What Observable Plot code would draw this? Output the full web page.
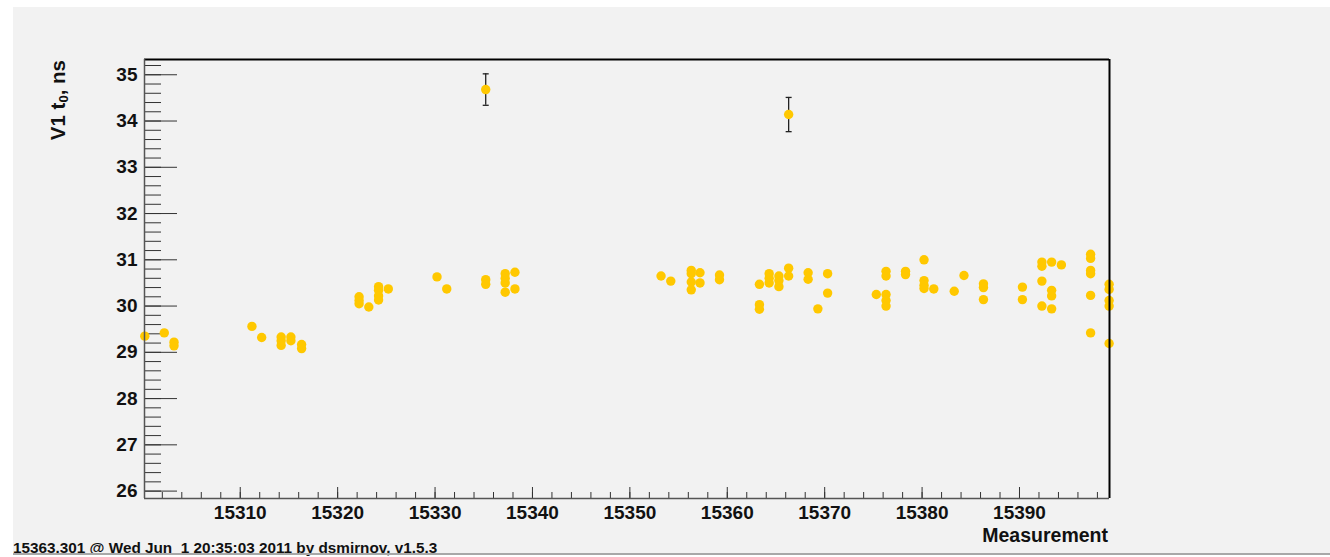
<!DOCTYPE html>
<html><head><meta charset="utf-8">
<script src="https://cdn.jsdelivr.net/npm/d3@7"></script>
<script src="https://cdn.jsdelivr.net/npm/@observablehq/plot@0.6"></script>
<style>
html,body{margin:0;padding:0;background:#fff;}
#wrap{position:relative;width:1330px;height:557px;overflow:hidden;}
#panel{position:absolute;left:13px;top:7px;width:1317px;height:546px;background:#f2f2f2;}
#chart{position:absolute;left:0;top:0;}
#footer{position:absolute;left:13px;top:539px;font:bold 15.3px "Liberation Sans",Arial,sans-serif;white-space:pre;color:#111;}
#line{position:absolute;left:13px;top:553px;width:1317px;height:2px;background:#a8a8a8;}
</style></head>
<body><div id="wrap"><div id="panel"></div><div id="chart"></div><div id="footer"></div><div id="line"></div></div>
<script>
// ---- data ----
const measurement = [
15300.2, 15302.2, 15303.2, 15303.2,
15311.2, 15312.2, 15314.2, 15314.2, 15314.2, 15315.2, 15315.2, 15316.3, 15316.3,
15322.2, 15322.2, 15322.2, 15323.2, 15324.2, 15324.2, 15324.2, 15324.2, 15325.2,
15330.2, 15331.2, 15335.2, 15335.2, 15335.2, 15337.2, 15337.2, 15337.2, 15337.2, 15338.2, 15338.2,
15353.2, 15354.2, 15356.3, 15356.3, 15356.3, 15356.3, 15357.2, 15357.2, 15359.2, 15359.2,
15363.3, 15363.3, 15363.3, 15364.3, 15364.3, 15364.3, 15365.3, 15365.3, 15365.3, 15366.3, 15366.3, 15366.3, 15368.3, 15368.3, 15369.3, 15370.3, 15370.3,
15375.3, 15376.3, 15376.3, 15376.3, 15376.3, 15376.3, 15378.3, 15378.3, 15380.2, 15380.2, 15380.2, 15380.2, 15381.2, 15383.3, 15384.3, 15386.3, 15386.3, 15386.3,
15390.3, 15390.3, 15392.3, 15392.3, 15392.3, 15392.3, 15393.3, 15393.3, 15393.3, 15393.3, 15394.3, 15397.3, 15397.3, 15397.3, 15397.3, 15397.3, 15397.3, 15399.2, 15399.2, 15399.2, 15399.2, 15399.2
];
const t0 = [
29.35, 29.42, 29.22, 29.14,
29.56, 29.32, 29.33, 29.25, 29.15, 29.33, 29.25, 29.17, 29.08,
30.20, 30.12, 30.05, 29.98, 30.42, 30.34, 30.22, 30.13, 30.37,
30.63, 30.37, 34.68, 30.57, 30.47, 30.70, 30.60, 30.50, 30.30, 30.73, 30.37,
30.65, 30.54, 30.77, 30.70, 30.52, 30.35, 30.72, 30.50, 30.67, 30.57,
30.47, 30.03, 29.93, 30.70, 30.60, 30.50, 30.65, 30.55, 30.42, 34.14, 30.82, 30.65, 30.72, 30.58, 29.94, 30.70, 30.28,
30.25, 30.75, 30.65, 30.25, 30.12, 30.00, 30.75, 30.68, 31.00, 30.55, 30.45, 30.38, 30.37, 30.32, 30.66, 30.48, 30.40, 30.14,
30.41, 30.14, 30.95, 30.86, 30.54, 30.00, 30.95, 30.34, 30.22, 29.94, 30.89, 31.12, 31.03, 30.77, 30.70, 30.23, 29.42, 30.47, 30.36, 30.12, 30.00, 29.19
];
// points whose error bars are visible
const errMeasurement = [15335.2, 15366.3];
const errT0 = [34.68, 34.14];
const errSize = [0.34, 0.37];

const xDomain = [15300.17, 15399.24];
const yDomain = [25.84, 35.33];
const xMajor = [15310, 15320, 15330, 15340, 15350, 15360, 15370, 15380, 15390];
const xMinor = d3.range(15302, 15399.5, 2);
const yMajor = [26, 27, 28, 29, 30, 31, 32, 33, 34, 35];
const yMinor = d3.range(26, 35.3, 0.2);
const xTitle = "Measurement";
const footerText = "15363.301 @ Wed Jun  1 20:35:03 2011 by dsmirnov, v1.5.3";

// ---- build ----
const points = measurement.map((x, i) => ({x, y: t0[i]}));
const errs = errMeasurement.map((x, i) => ({x, y: errT0[i], lo: errT0[i] - errSize[i], hi: errT0[i] + errSize[i]}));
const caps = errs.flatMap(d => [{x: d.x, y: d.lo}, {x: d.x, y: d.hi}]);
const capSymbol = {draw(ctx) { ctx.moveTo(-3, 0); ctx.lineTo(3, 0); }};
const font = "'Liberation Sans', Arial, sans-serif";
const tickColor = "#333";

const chart = Plot.plot({
  width: 1330, height: 557,
  marginLeft: 144, marginRight: 221, marginTop: 59, marginBottom: 59,
  style: {background: "transparent", fontFamily: font, fontSize: "19px", fontWeight: "bold", color: "#111", overflow: "visible"},
  x: {domain: xDomain},
  y: {domain: yDomain},
  marks: [
    Plot.axisY({ticks: yMinor, tickSize: -17, tickFormat: () => "", label: null, stroke: tickColor}),
    Plot.axisY({ticks: yMajor, tickSize: -33, tickFormat: () => "", label: null, stroke: tickColor}),
    Plot.axisY({ticks: yMajor, tickSize: 0, tickPadding: 7, tickFormat: d => String(d), label: null}),
    Plot.axisX({ticks: xMinor, tickSize: -6, tickFormat: () => "", label: null, stroke: tickColor}),
    Plot.axisX({ticks: xMajor, tickSize: -11, tickFormat: () => "", label: null, stroke: tickColor}),
    Plot.axisX({ticks: xMajor, tickSize: 0, tickPadding: 6.5, tickFormat: d => String(d), label: null}),
    Plot.ruleX(errs, {x: "x", y1: "lo", y2: "hi", stroke: "#222", strokeWidth: 1.3}),
    Plot.dot(caps, {x: "x", y: "y", symbol: capSymbol, stroke: "#222", fill: "none", strokeWidth: 1.3}),
    Plot.dot(points, {x: "x", y: "y", r: 4.7, fill: "#ffc800"}),
    Plot.ruleY([yDomain[1]], {stroke: "#000", strokeWidth: 2}),
    Plot.ruleX([xDomain[1]], {stroke: "#000", strokeWidth: 2}),
    Plot.ruleX([xDomain[0]], {stroke: "#555", strokeWidth: 1.5}),
    Plot.ruleY([yDomain[0]], {stroke: "#555", strokeWidth: 1.5})
  ]
});
document.getElementById("chart").appendChild(chart);

const svg = d3.select(chart);
const yl = svg.append("text")
  .attr("transform", "translate(64.5,60) rotate(-90)")
  .attr("text-anchor", "end")
  .style("font-family", font).style("font-weight", "bold").style("font-size", "20.5px").attr("fill", "#111");
yl.append("tspan").text("V1 t");
yl.append("tspan").attr("dy", 3.5).style("font-size", "13px").text("0");
yl.append("tspan").attr("dy", -3.5).text(", ns");

svg.append("text")
  .attr("x", 1108).attr("y", 541.5)
  .attr("text-anchor", "end")
  .style("font-family", font).style("font-weight", "bold").style("font-size", "19.5px").attr("fill", "#111")
  .text(xTitle);

document.getElementById("footer").textContent = footerText;
</script></body></html>
